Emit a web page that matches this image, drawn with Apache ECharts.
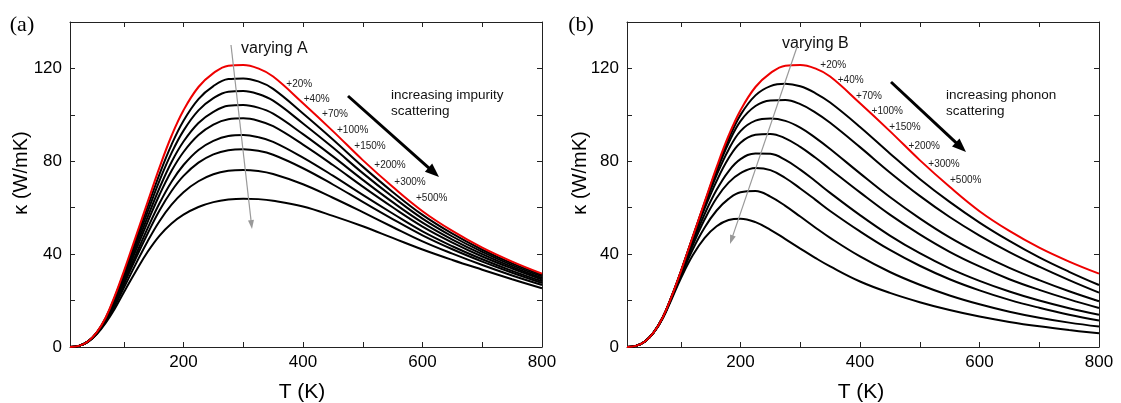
<!DOCTYPE html>
<html>
<head>
<meta charset="utf-8">
<script src="https://cdn.jsdelivr.net/npm/echarts@6/dist/echarts.min.js"></script>
<style>
html,body{margin:0;padding:0;background:#fff;}
#chart{width:1121px;height:403px;}
</style>
</head>
<body>
<div id="chart"></div>
<script>
// ---------- data ----------
const T = [10,25,40,55,70,85,100,120,140,160,180,200,225,250,275,300,325,350,400,450,500,550,600,650,700,750,800];

const baseline = [0,0.5,2.4,6.4,12.8,22,32.5,47.5,62.5,77.5,91,102,112,118,121.2,121.5,120,116.5,105,93,80.5,69,58.5,50,42.8,36.8,31.6];

// panel (a): varying A (impurity scattering)
const a20  = [0,0.5,2.4,6.3,12.6,21.5,31.6,46.0,60.4,74.6,87.2,97.5,106.8,112.4,115.4,115.7,114.4,111.2,100.6,89.4,77.7,66.8,56.9,48.8,41.9,36.0,31.0];
const a40  = [0,0.5,2.4,6.2,12.4,20.9,30.7,44.6,58.3,71.8,83.6,93.2,101.9,107.2,110.0,110.3,109.0,106.1,96.3,85.9,74.9,64.7,55.3,47.6,41.0,35.3,30.4];
const a70  = [0,0.5,2.3,6.2,12.1,20.4,29.8,43.0,56.1,68.6,79.7,88.5,96.5,101.3,103.9,104.2,103.1,100.5,91.7,82.1,72.0,62.4,53.6,46.3,40.0,34.5,29.7];
const a100 = [0,0.5,2.3,6.1,11.9,19.8,28.9,41.5,53.9,65.7,75.9,84.0,91.3,95.8,98.1,98.5,97.5,95.1,87.2,78.4,69.1,60.2,51.9,45.0,39.0,33.8,29.1];
const a150 = [0,0.5,2.3,6.0,11.6,19.1,27.8,39.6,51.2,62.0,71.2,78.4,84.9,88.8,90.9,91.3,90.4,88.4,81.6,73.8,65.5,57.5,49.8,43.4,37.8,32.8,28.3];
const a200 = [0,0.5,2.3,5.9,11.4,18.5,26.8,38.1,48.9,58.9,67.2,73.7,79.4,83.0,84.8,85.2,84.5,82.8,77.0,70.0,62.5,55.1,48.1,42.1,36.8,32.0,27.6];
const a300 = [0,0.5,2.2,5.8,11.0,17.7,25.4,35.7,45.6,54.3,61.3,66.7,71.4,74.4,75.9,76.3,75.8,74.5,70.1,64.3,58.1,51.7,45.5,40.2,35.3,30.8,26.7];
const a500 = [0,0.5,2.2,5.6,10.5,16.5,23.5,32.5,41.0,48.0,53.2,57.0,60.3,62.4,63.5,63.9,63.7,63.0,60.5,56.5,52.0,47.0,42.0,37.5,33.3,29.2,25.3];

// panel (b): varying B (phonon scattering)
const b20  = [0,0.5,2.4,6.4,12.8,22.0,32.4,47.4,62.2,76.6,89.5,100.0,108.4,112.4,113.4,112.3,109.4,105.3,94.8,83.4,72.4,62.5,53.6,45.7,38.6,32.4,26.7];
const b40  = [0,0.5,2.4,6.4,12.8,21.9,32.3,47.2,61.8,75.6,87.8,97.3,103.8,106.2,106.4,104.6,101.1,96.6,86.1,75.2,65.1,56.0,48.0,40.9,34.6,28.8,23.4];
const b70  = [0,0.5,2.4,6.4,12.8,21.9,32.2,46.8,61.0,74.0,85.0,93.0,97.5,98.4,97.4,94.5,90.2,85.3,74.8,64.6,55.4,47.2,40.2,34.1,28.8,24.0,19.7];
const b100 = [0,0.5,2.4,6.4,12.8,21.8,32.0,46.2,59.7,71.5,81.3,88.0,91.4,91.8,89.9,86.2,81.6,76.6,66.6,57.0,48.5,41.0,34.7,29.2,24.6,20.5,16.8];
const b150 = [0,0.5,2.4,6.4,12.7,21.7,31.6,45.0,57.3,67.7,75.7,80.9,83.4,83.2,80.6,76.4,71.5,66.4,56.8,48.0,40.4,33.9,28.5,23.9,20.0,16.7,13.9];
const b200 = [0,0.5,2.4,6.4,12.7,21.6,31.2,43.8,55.0,64.2,70.8,74.9,77.1,76.2,72.8,68.3,63.5,58.6,49.8,41.8,35.0,29.2,24.4,20.3,16.9,13.9,11.4];
const b300 = [0,0.5,2.4,6.4,12.6,21.3,30.5,42.0,51.5,58.8,63.8,66.7,67.2,64.8,60.8,56.2,51.5,47.0,39.0,32.3,26.8,22.2,18.4,15.2,12.6,10.5,8.8];
const b500 = [0,0.5,2.4,6.3,12.4,20.8,29.5,39.5,47.0,52.0,54.7,55.3,53.8,50.5,46.5,42.4,38.4,34.7,28.2,23.3,19.3,15.9,13.1,10.8,8.9,7.3,5.9];

const pctLabels = ['+20%','+40%','+70%','+100%','+150%','+200%','+300%','+500%'];
const xTickValues = [100,200,300,400,500,600,700];
const xLabelValues = [200,400,600,800];
const yTickValues = [20,40,60,80,100,120];
const yLabelValues = [0,40,80,120];

// ---------- chart ----------
const chart = echarts.init(document.getElementById('chart'), null, {renderer:'canvas'});
const SANS = 'Liberation Sans, Arial, Helvetica, sans-serif';
const AXC = '#222';

function pairs(ys){ return T.map((t,i)=>[t, ys[i]]); }

const grids = [
  {left:70, top:22, width:472, height:325},
  {left:627, top:22, width:472, height:325}
];

function xAx(g, pos, labels){
  return {
    type:'value', gridIndex:g, position:pos, min:10, max:800,
    axisLine:{show:true, onZero:false, lineStyle:{color:AXC, width:1}},
    axisTick:{show:true, inside:true, length:5, customValues:xTickValues, lineStyle:{color:AXC, width:1}},
    axisLabel:{show:labels, customValues:xLabelValues, fontSize:17, color:'#000', margin:7, fontFamily:SANS},
    splitLine:{show:false}
  };
}
function yAx(g, pos, labels){
  return {
    type:'value', gridIndex:g, position:pos, min:0, max:140,
    axisLine:{show:true, onZero:false, lineStyle:{color:AXC, width:1}},
    axisTick:{show:true, inside:true, length:5, customValues:yTickValues, lineStyle:{color:AXC, width:1}},
    axisLabel:{show:labels, customValues:yLabelValues, fontSize:17, color:'#000', margin:8, fontFamily:SANS},
    splitLine:{show:false}
  };
}

const aCurves = [a20,a40,a70,a100,a150,a200,a300,a500];
const bCurves = [b20,b40,b70,b100,b150,b200,b300,b500];

const series = [];
function addPanel(curves, xi, yi, tag){
  curves.forEach((c,k)=>{
    series.push({
      name: tag + ' ' + pctLabels[k], type:'line', xAxisIndex:xi, yAxisIndex:yi,
      data:pairs(c), showSymbol:false, smooth:0.4, z:2,
      lineStyle:{color:'#000', width:2}, silent:true
    });
  });
  series.push({
    name: tag + ' baseline', type:'line', xAxisIndex:xi, yAxisIndex:yi,
    data:pairs(baseline), showSymbol:false, smooth:0.4, z:3,
    lineStyle:{color:'#ee0000', width:2}, silent:true
  });
}
addPanel(aCurves, 0, 0, 'A');
addPanel(bCurves, 2, 2, 'B');

// ---------- annotations ----------
function txt(s, x, y, size, opts){
  opts = opts || {};
  return {
    type:'text', x:x, y:y, rotation:opts.rot||0, z:10,
    style:{text:s, x:0, y:0, fill:opts.fill||'#111',
      font:(opts.weight||'normal') + ' ' + size + 'px ' + (opts.family||SANS),
      textAlign:opts.align||'center', textVerticalAlign:opts.valign||'middle',
      lineHeight:opts.lh||size*1.2}
  };
}
function arrow(x1,y1,x2,y2,color,w,hl,hw){
  const dx=x2-x1, dy=y2-y1, L=Math.sqrt(dx*dx+dy*dy), ux=dx/L, uy=dy/L;
  const bx=x2-ux*hl, by=y2-uy*hl, px=-uy, py=ux;
  return [
    {type:'line', z:10, shape:{x1:x1,y1:y1,x2:bx+ux*1,y2:by+uy*1}, style:{stroke:color, lineWidth:w}},
    {type:'polygon', z:10, shape:{points:[[x2,y2],[bx+px*hw/2,by+py*hw/2],[bx-px*hw/2,by-py*hw/2]]}, style:{fill:color}}
  ];
}

const aLabelPos = [[299.3,84],[316.7,99],[335,114],[352.7,130],[370,146],[390,165],[410,182],[431.7,198]];
const bLabelPos = [[833.3,65],[850.7,80.7],[869,96],[887.3,111.7],[905,127.7],[924.3,146.7],[944,164],[965.7,180]];

const graphics = [];
graphics.push(txt('(a)', 22, 25, 22, {family:'Liberation Serif, Times New Roman, serif', fill:'#000'}));
graphics.push(txt('(b)', 581, 25, 22, {family:'Liberation Serif, Times New Roman, serif', fill:'#000'}));
graphics.push(txt('κ (W/mK)', 21, 173, 20, {rot:Math.PI/2, fill:'#000'}));
graphics.push(txt('κ (W/mK)', 580, 173, 20, {rot:Math.PI/2, fill:'#000'}));
graphics.push(txt('T (K)', 302, 392, 21, {fill:'#000'}));
graphics.push(txt('T (K)', 861, 392, 21, {fill:'#000'}));
graphics.push(txt('varying A', 241, 49, 16, {align:'left'}));
graphics.push(txt('varying B', 782, 44, 16, {align:'left'}));
graphics.push(txt('increasing impurity\nscattering', 391, 103, 13.5, {align:'left', lh:16}));
graphics.push(txt('increasing phonon\nscattering', 946, 103, 13.5, {align:'left', lh:16}));
pctLabels.forEach((s,k)=>{
  graphics.push(txt(s, aLabelPos[k][0], aLabelPos[k][1], 10, {fill:'#222'}));
  graphics.push(txt(s, bLabelPos[k][0], bLabelPos[k][1], 10, {fill:'#222'}));
});
graphics.push(...arrow(231,45,252,229,'#999',1.2,9,6));
graphics.push(...arrow(797,47,730,244,'#999',1.2,9,6));
graphics.push(...arrow(348,96,439,177,'#000',3,14,11));
graphics.push(...arrow(891,82,966,152,'#000',3,14,11));

chart.setOption({
  animation:false,
  backgroundColor:'#fff',
  grid:grids,
  xAxis:[xAx(0,'bottom',true), xAx(0,'top',false), xAx(1,'bottom',true), xAx(1,'top',false)],
  yAxis:[yAx(0,'left',true), yAx(0,'right',false), yAx(1,'left',true), yAx(1,'right',false)],
  series:series,
  graphic:graphics
});
</script>
</body>
</html>
